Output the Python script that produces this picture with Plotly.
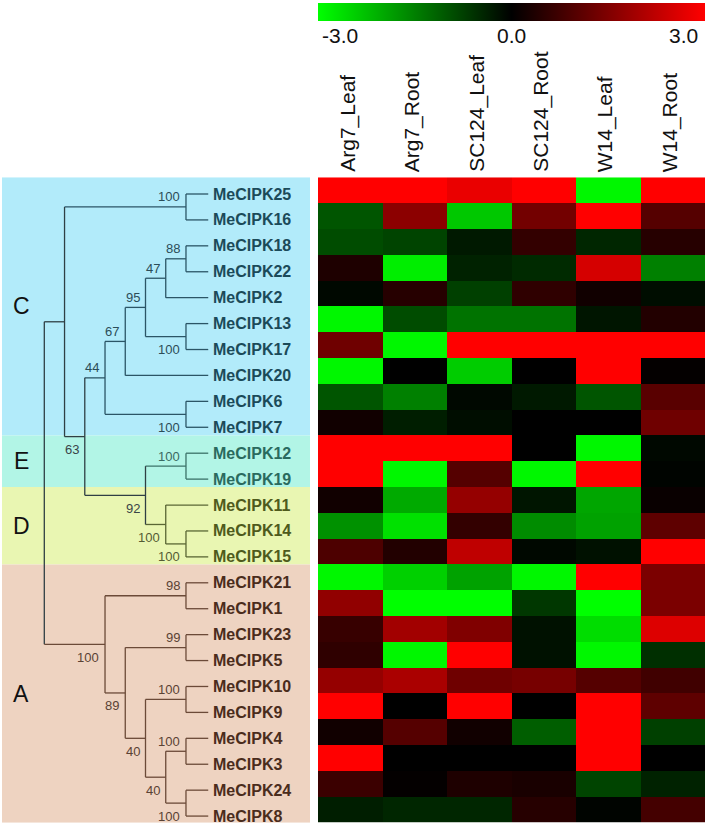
import plotly.graph_objects as go

# ---------------- data ----------------
genes = ["MeCIPK25", "MeCIPK16", "MeCIPK18", "MeCIPK22", "MeCIPK2", "MeCIPK13",
         "MeCIPK17", "MeCIPK20", "MeCIPK6", "MeCIPK7", "MeCIPK12", "MeCIPK19",
         "MeCIPK11", "MeCIPK14", "MeCIPK15", "MeCIPK21", "MeCIPK1", "MeCIPK23",
         "MeCIPK5", "MeCIPK10", "MeCIPK9", "MeCIPK4", "MeCIPK3", "MeCIPK24", "MeCIPK8"]
conditions = ["Arg7_Leaf", "Arg7_Root", "SC124_Leaf", "SC124_Root", "W14_Leaf", "W14_Root"]
expr = [
    [3.0, 3.0, 2.75, 3.0, -2.9, 3.0],      # 25
    [-1.0, 1.65, -2.35, 1.35, 3.0, 1.0],   # 16
    [-0.9, -0.8, -0.3, 0.6, -0.45, 0.45],  # 18
    [0.35, -2.8, -0.4, -0.5, 2.5, -1.5],   # 22
    [-0.1, 0.45, -0.75, 0.55, 0.2, -0.15], # 2
    [-2.9, -0.9, -1.35, -1.35, -0.25, 0.4],# 13
    [1.3, -2.9, 3.0, 3.0, 3.0, 3.0],       # 17
    [-2.9, 0.0, -2.4, 0.0, 3.0, 0.05],     # 20
    [-1.0, -1.5, -0.1, -0.3, -1.0, 1.05],  # 6
    [0.2, -0.35, -0.15, 0.0, 0.0, 1.3],    # 7
    [3.0, 3.0, 3.0, 0.0, -2.9, -0.1],      # 12
    [3.0, -2.9, 1.0, -2.9, 3.0, -0.05],    # 19
    [0.2, -2.0, 1.75, -0.25, -1.95, 0.1],  # 11
    [-1.7, -2.65, 0.6, -1.65, -1.9, 1.1],  # 14
    [0.9, 0.4, 2.25, -0.1, -0.2, 3.0],     # 15
    [-2.9, -2.45, -1.9, -2.9, 3.0, 1.45],  # 21
    [1.7, -3.0, -3.0, -0.65, -3.0, 1.45],  # 1
    [0.65, 1.9, 1.5, -0.2, -2.6, 2.6],     # 23
    [0.55, -2.9, 3.0, -0.2, -2.9, -0.55],  # 5
    [1.75, 2.0, 1.3, 1.4, 1.0, 0.75],      # 10
    [3.0, 0.0, 3.0, 0.0, 3.0, 1.1],        # 9
    [0.2, 1.0, 0.2, -1.1, 3.0, -0.75],     # 4
    [3.0, 0.0, 0.0, 0.0, 3.0, 0.0],        # 3
    [0.7, 0.05, 0.35, 0.3, -0.8, -0.4],    # 24
    [-0.35, -0.45, -0.45, 0.45, -0.05, 0.8]# 8
]
clade_names = ["C", "E", "D", "A"]
clade_sizes = [10, 2, 3, 10]
colorbar_ticks = [-3.0, 0.0, 3.0]


def N(level, boot, side, *children):
    return {"level": level, "boot": boot, "side": side, "children": list(children)}


# cladogram: node depth level, bootstrap value, label side
tree = N(0, None, None,
         N(1, None, None,
           N(7, 100, "above", 0, 1),
           N(2, 63, "below",
             N(3, 44, "above",
               N(4, 67, "above",
                 N(5, 95, "above",
                   N(6, 47, "above", N(7, 88, "above", 2, 3), 4),
                   N(7, 100, "below", 5, 6)),
                 7),
               N(7, 100, "below", 8, 9)),
             N(5, 92, "below",
               N(7, 100, "above", 10, 11),
               N(6, 100, "below", 12, N(7, 100, "below", 13, 14))))),
         N(3, 100, "below",
           N(7, 98, "above", 15, 16),
           N(4, 89, "below",
             N(7, 99, "above", 17, 18),
             N(5, 40, "below",
               N(7, 100, "above", 19, 20),
               N(6, 40, "below",
                 N(7, 100, "above", 21, 22),
                 N(7, 100, "below", 23, 24))))))
LEAF_LEVEL = 8.1

# ---------------- styles ----------------
W, H = 708, 830
FONT = "Arial, Liberation Sans, sans-serif"
band_colors = {"C": "#b2ebfa", "E": "#b2f5e6", "D": "#e9f6b2", "A": "#eed3c1"}
text_colors = {"C": "#1b4a59", "E": "#2a6a5e", "D": "#4e5a1c", "A": "#4a2c1c"}
line_colors = {"C": "#2b5566", "E": "#3b7268", "D": "#5a6634", "A": "#6b4a38", "mix": "#2f3f44"}
boot_colors = {"C": "#2c4d58", "E": "#3a6a62", "D": "#545c34", "A": "#5a4234", "mix": "#3a4448"}

clade_of_row = []
for name, n in zip(clade_names, clade_sizes):
    clade_of_row += [name] * n

# ---------------- tree geometry ----------------
segments = {}
boot_annots = []


def leaves_of(node):
    if isinstance(node, int):
        return [node]
    out = []
    for c in node["children"]:
        out += leaves_of(c)
    return out


def clade_of(node):
    cl = {clade_of_row[i] for i in leaves_of(node)}
    return cl.pop() if len(cl) == 1 else "mix"


def add_seg(color, xs, ys):
    d = segments.setdefault(color, ([], []))
    d[0].extend(xs + [None])
    d[1].extend(ys + [None])


def layout_node(node):
    if isinstance(node, int):
        return LEAF_LEVEL, float(node)
    pts = [layout_node(c) for c in node["children"]]
    ys = [p[1] for p in pts]
    y = sum(ys) / len(ys)
    x = node["level"]
    col = clade_of(node)
    add_seg(line_colors[col], [x, x], [min(ys), max(ys)])
    for c, (cx, cy) in zip(node["children"], pts):
        add_seg(line_colors[clade_of(c)], [x, cx], [cy, cy])
    if node["boot"] is not None:
        boot_annots.append(dict(
            x=x, y=y, xref="x2", yref="y2", text=str(node["boot"]),
            showarrow=False, xanchor="right", yanchor="middle",
            xshift=-4, yshift=10 if node["side"] == "above" else -13,
            font=dict(family=FONT, size=13, color=boot_colors[col])))
    return x, y


layout_node(tree)

fig = go.Figure()

# heatmap
fig.add_trace(go.Heatmap(
    z=expr, x=list(range(len(conditions))), y=list(range(len(genes))),
    zmin=-3, zmax=3,
    colorscale=[[0, "#00ff00"], [0.5, "#000000"], [1, "#ff0000"]],
    xaxis="x", yaxis="y", showscale=True,
    colorbar=dict(orientation="h", x=(318 + 705) / 2 / W, xanchor="center",
                  y=1 - 2.5 / H, yanchor="top", len=387 / W, lenmode="fraction",
                  thickness=18, thicknessmode="pixels", xpad=0, ypad=0,
                  outlinewidth=0, showticklabels=False, ticks=""),
    hoverinfo="skip"))

# tree lines
for color, (xs, ys) in segments.items():
    fig.add_trace(go.Scatter(x=xs, y=ys, mode="lines", xaxis="x2", yaxis="y2",
                             line=dict(color=color, width=1.3), hoverinfo="skip",
                             showlegend=False))

annots = list(boot_annots)

# gene labels
for i, g in enumerate(genes):
    annots.append(dict(x=LEAF_LEVEL, y=i, xref="x2", yref="y2", text="<b>%s</b>" % g,
                       showarrow=False, xanchor="left", yanchor="middle", xshift=3,
                       font=dict(family=FONT, size=16, color=text_colors[clade_of_row[i]])))

# clade bands + letters
shapes = []
start = 0
for name, n in zip(clade_names, clade_sizes):
    shapes.append(dict(type="rect", xref="paper", yref="y", x0=2 / W, x1=310 / W,
                       y0=start - 0.5, y1=start + n - 0.5, fillcolor=band_colors[name],
                       line=dict(width=0), layer="below"))
    annots.append(dict(x=21 / W, y=start + (n - 1) / 2, xref="paper", yref="y", text=name,
                       showarrow=False, xanchor="center", yanchor="middle",
                       font=dict(family=FONT, size=23, color="#111111")))
    start += n

# column labels
for j, c in enumerate(conditions):
    annots.append(dict(x=j, y=1 - 174 / H, xref="x", yref="paper", text=c, textangle=-90,
                       showarrow=False, xanchor="center", yanchor="bottom", xshift=-3,
                       font=dict(family=FONT, size=21, color="#111111")))

# colorbar tick labels
cb_left, cb_right = 318 / W, 705 / W
for v in colorbar_ticks:
    frac = (v - colorbar_ticks[0]) / (colorbar_ticks[-1] - colorbar_ticks[0])
    xp = cb_left + frac * (cb_right - cb_left)
    anchor = "left" if frac == 0 else ("right" if frac == 1 else "center")
    annots.append(dict(x=xp, y=1 - 35.5 / H, xref="paper", yref="paper", text="%.1f" % v,
                       showarrow=False, xanchor=anchor, yanchor="middle",
                       xshift=2 if anchor == "left" else (-5 if anchor == "right" else 0),
                       font=dict(family=FONT, size=21, color="#111111")))

px_per_level = 20.24
x0_px = 44.3
tree_px0, tree_px_step = 194.0, 25.92

fig.update_layout(
    width=W, height=H, margin=dict(l=0, r=0, t=0, b=0),
    paper_bgcolor="white", plot_bgcolor="rgba(0,0,0,0)", showlegend=False,
    xaxis=dict(domain=[318 / W, 705 / W], range=[-0.5, len(conditions) - 0.5],
               visible=False, fixedrange=True),
    yaxis=dict(domain=[1 - 822.7 / H, 1 - 177.3 / H], range=[len(genes) - 0.5, -0.5],
               visible=False, fixedrange=True),
    xaxis2=dict(domain=[0, 318 / W], range=[-x0_px / px_per_level, (318 - x0_px) / px_per_level],
                visible=False, anchor="y2", fixedrange=True),
    yaxis2=dict(domain=[0, 1], range=[(H - tree_px0) / tree_px_step, -tree_px0 / tree_px_step],
                visible=False, anchor="x2", fixedrange=True),
    shapes=shapes, annotations=annots,
)

fig.write_html("out.html", config={"displayModeBar": False},
               post_script="document.body.style.margin='0px';document.body.style.overflow='hidden';")
